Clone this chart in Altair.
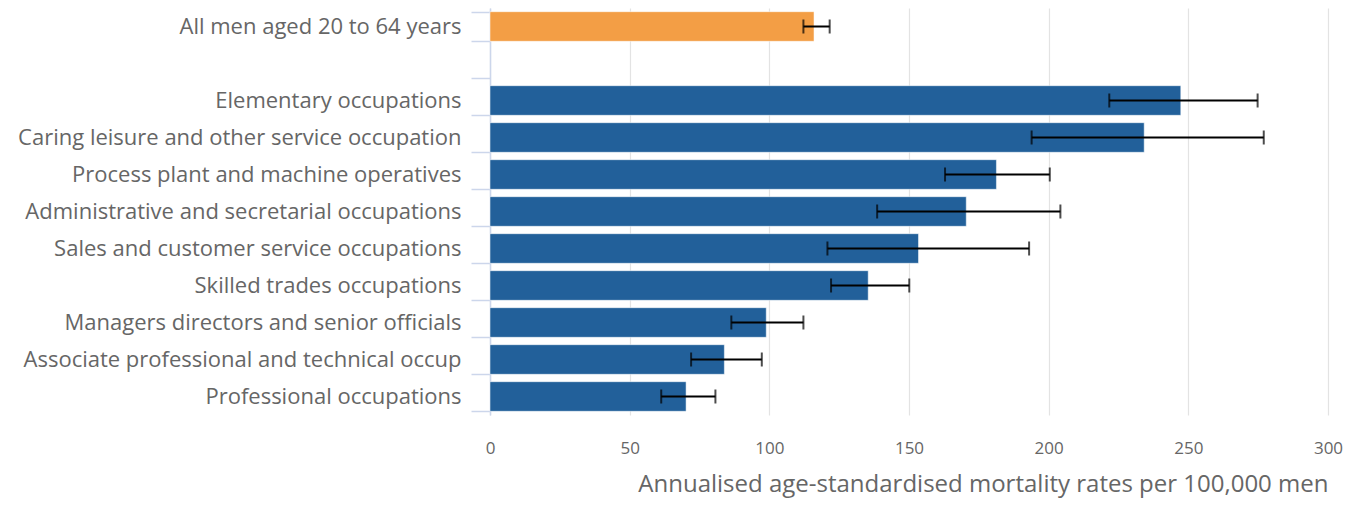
import altair as alt
import pandas as pd

categories = [
    "All men aged 20 to 64 years",
    " ",
    "Elementary occupations",
    "Caring leisure and other service occupation",
    "Process plant and machine operatives",
    "Administrative and secretarial occupations",
    "Sales and customer service occupations",
    "Skilled trades occupations",
    "Managers directors and senior officials",
    "Associate professional and technical occup",
    "Professional occupations",
]
groups = ["all", None] + ["occupation"] * 9
rates = [116.0, None, 247.3, 234.2, 181.3, 170.5, 153.4, 135.4, 98.9, 83.9, 70.2]
lower = [112.2, None, 221.7, 193.9, 162.9, 138.6, 120.8, 122.1, 86.4, 72.0, 61.3]
upper = [121.6, None, 274.8, 277.0, 200.4, 204.2, 193.0, 150.1, 112.2, 97.3, 80.7]
x_ticks = [0, 50, 100, 150, 200, 250, 300]
x_title = "Annualised age-standardised mortality rates per 100,000 men"

rows = [
    dict(category=c, group=g, rate=r, low=l, high=h)
    for c, g, r, l, h in zip(categories, groups, rates, lower, upper)
    if r is not None
]
df = pd.DataFrame(rows)

FONT = "Open Sans"

y_scale = alt.Scale(domain=categories, paddingInner=0.2, paddingOuter=0.1)
x_scale = alt.Scale(domain=[0, 300], nice=False)

x_axis = alt.Axis(
    values=x_ticks,
    title=x_title,
    titleAnchor="end",
    titleFont=FONT,
    titleFontSize=24,
    titleFontWeight="normal",
    titleColor="#666666",
    titlePadding=16,
    labelFont=FONT,
    labelFontSize=17,
    labelColor="#666666",
    labelPadding=25,
    labelFlush=False,
    domain=False,
    ticks=False,
    tickSize=0,
    grid=True,
    gridColor="#e3e3e3",
    gridWidth=1.2,
)
y_axis = alt.Axis(
    title=None,
    labelFont=FONT,
    labelFontSize=22,
    labelColor="#666666",
    labelLimit=470,
    labelPadding=10,
    domainColor="#ccd6eb",
    domainWidth=1.5,
    tickColor="#ccd6eb",
    tickWidth=1.5,
    tickSize=19,
    tickBand="extent",
    grid=False,
)

base = alt.Chart(df)

bars = base.mark_bar(stroke="white", strokeWidth=1, strokeOpacity=0.5).encode(
    x=alt.X("rate:Q", scale=x_scale, axis=x_axis),
    y=alt.Y("category:N", scale=y_scale, axis=y_axis),
    color=alt.Color(
        "group:N",
        scale=alt.Scale(domain=["all", "occupation"], range=["#F39E45", "#22609A"]),
        legend=None,
    ),
)

err = base.mark_rule(color="black", strokeWidth=2).encode(
    x=alt.X("low:Q", scale=x_scale, axis=x_axis),
    x2="high:Q",
    y=alt.Y("category:N", scale=y_scale, axis=y_axis),
)
cap_low = base.mark_tick(color="black", thickness=2, size=14).encode(
    x=alt.X("low:Q", scale=x_scale, axis=x_axis),
    y=alt.Y("category:N", scale=y_scale, axis=y_axis),
)
cap_high = base.mark_tick(color="black", thickness=2, size=14).encode(
    x=alt.X("high:Q", scale=x_scale, axis=x_axis),
    y=alt.Y("category:N", scale=y_scale, axis=y_axis),
)

chart = (
    alt.layer(bars, err, cap_low, cap_high)
    .properties(
        width=838,
        height=407,
        autosize=alt.AutoSizeParams(type="none"),
        padding={"left": 482, "top": 0, "right": 15, "bottom": 85},
    )
    .configure_view(stroke=None)
)

chart.save("out.html", embed_options={"renderer": "svg", "actions": False})
